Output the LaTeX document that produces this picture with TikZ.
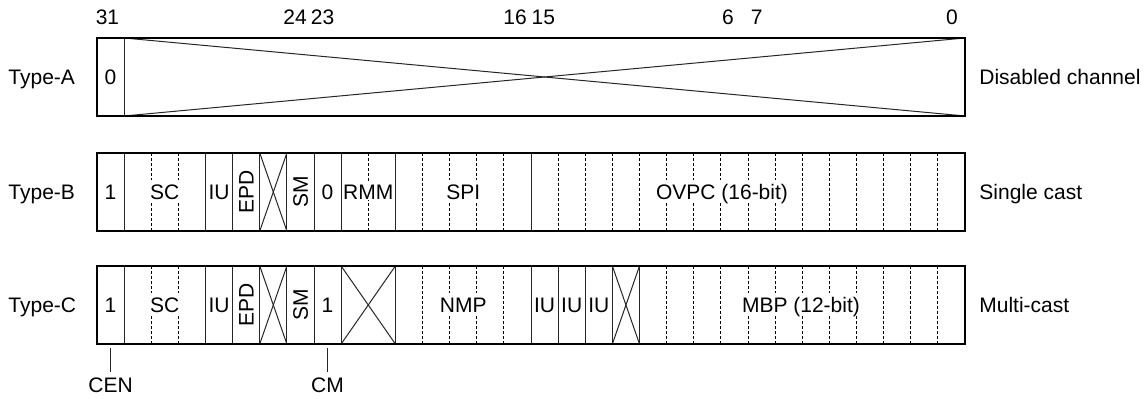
\documentclass[tikz,border=0pt]{standalone}
\usepackage{fontspec}
\setmainfont{Liberation Sans}
\begin{document}
\begin{tikzpicture}[x=0.5pt,y=-0.5pt,
  font=\fontsize{10.5pt}{12pt}\selectfont,
  outer/.style={line width=1.1pt},
  div/.style={line width=0.5pt, draw=black!85},
  dsh/.style={line width=0.5pt, dash pattern=on 1.5pt off 1pt},
  lbl/.style={inner sep=1.5pt, text height=7.5pt, text depth=0pt},
  flbl/.style={lbl, fill=white, inner sep=2pt},
  side/.style={anchor=west, inner sep=0pt, text height=7.5pt, text depth=0pt},
]
\useasboundingbox (0,0) rectangle (1146,399);
\def\L{97}\def\W{27.125}\def\R{965}
% ---------- bit numbers ----------
\node[lbl] (n31) at (107.5,17) {31};
\node[lbl] (n24) at (295,17) {24};
\node[lbl] (n23) at (322.5,17) {23};
\node[lbl] (n16) at (515,17) {16};
\node[lbl] (n15) at (543.3,17) {15};
\node[lbl] (n6) at (728,17) {6};
\node[lbl] (n7) at (756.7,17) {7};
\node[lbl] (n0) at (952,17) {0};
% ---------- row labels ----------
\node[side] (tA) at (8,77) {Type-A};
\node[side] (tB) at (8,192) {Type-B};
\node[side] (tC) at (8,305) {Type-C};
\node[side] (dA) at (979,77) {Disabled channel};
\node[side] (dB) at (979,192) {Single cast};
\node[side] (dC) at (979,305) {Multi-cast};
% ---------- Type-A ----------
\draw[div] ({\L+\W},38) -- ({\L+\W},116);
\draw[div] ({\L+\W},38) -- (\R,116);
\draw[div] ({\L+\W},116) -- (\R,38);
\node[lbl] (a31) at ({\L+0.5*\W},77) {0};
\draw[outer] (\L,38) rectangle (\R,116);
% ---------- Type-B ----------
\foreach \k in {2,3,10,12,13,14,15,17,18,19,20,21,22,23,24,25,26,27,28,29,30,31}
  \draw[dsh] ({\L+\W*\k},153) -- ({\L+\W*\k},231);
\draw[div] ({\L+6*\W},153) -- ({\L+7*\W},231);
\draw[div] ({\L+6*\W},231) -- ({\L+7*\W},153);
\node[lbl] (b1) at ({\L+0.5*\W},192) {1};
\node[flbl] (bSC) at ({\L+2.5*\W},192) {SC};
\node[lbl] (bIU) at ({\L+4.5*\W},192) {IU};
\node[lbl,rotate=90] (bEPD) at ({\L+5.5*\W},192) {EPD};
\node[lbl,rotate=90] (bSM) at ({\L+7.5*\W},192) {SM};
\node[lbl] (b0) at ({\L+8.5*\W},192) {0};
\node[flbl,inner sep=0.5pt] (bRMM) at ({\L+10*\W},192) {RMM};
\node[flbl] (bSPI) at ({\L+13.5*\W},192) {SPI};
\node[flbl] (bOVPC) at (722,192) {OVPC (16-bit)};
\foreach \k in {1,4,5,6,7,8,9,11,16}
  \draw[div] ({\L+\W*\k},153) -- ({\L+\W*\k},231);
\draw[outer] (\L,153) rectangle (\R,231);
% ---------- Type-C ----------
\foreach \k in {2,3,12,13,14,15,21,22,23,24,25,26,27,28,29,30,31}
  \draw[dsh] ({\L+\W*\k},266) -- ({\L+\W*\k},344);
\draw[div] ({\L+6*\W},266) -- ({\L+7*\W},344);
\draw[div] ({\L+6*\W},344) -- ({\L+7*\W},266);
\draw[div] ({\L+9*\W},266) -- ({\L+11*\W},344);
\draw[div] ({\L+9*\W},344) -- ({\L+11*\W},266);
\draw[div] ({\L+19*\W},266) -- ({\L+20*\W},344);
\draw[div] ({\L+19*\W},344) -- ({\L+20*\W},266);
\node[lbl] (c1) at ({\L+0.5*\W},305) {1};
\node[flbl] (cSC) at ({\L+2.5*\W},305) {SC};
\node[lbl] (cIU) at ({\L+4.5*\W},305) {IU};
\node[lbl,rotate=90] (cEPD) at ({\L+5.5*\W},305) {EPD};
\node[lbl,rotate=90] (cSM) at ({\L+7.5*\W},305) {SM};
\node[lbl] (cCM) at ({\L+8.5*\W},305) {1};
\node[flbl] (cNMP) at ({\L+13.5*\W},305) {NMP};
\node[lbl] (cIU1) at ({\L+16.5*\W},305) {IU};
\node[lbl] (cIU2) at ({\L+17.5*\W},305) {IU};
\node[lbl] (cIU3) at ({\L+18.5*\W},305) {IU};
\node[flbl] (cMBP) at (801,305) {MBP (12-bit)};
\foreach \k in {1,4,5,6,7,8,9,11,16,17,18,19,20}
  \draw[div] ({\L+\W*\k},266) -- ({\L+\W*\k},344);
\draw[outer] (\L,266) rectangle (\R,344);
% ---------- markers ----------
\coordinate (cenT) at ({\L+0.5*\W},348);
\coordinate (cmT) at ({\L+8.5*\W},348);
\node[anchor=base,inner sep=2.7pt] (cen) at ({\L+0.5*\W},392.5) {CEN};
\node[anchor=base,inner sep=2.7pt] (cm) at ({\L+8.5*\W},392.5) {CM};
\draw[div] (cenT) -- (cen.north);
\draw[div] (cmT) -- (cm.north);
\end{tikzpicture}
\end{document}
